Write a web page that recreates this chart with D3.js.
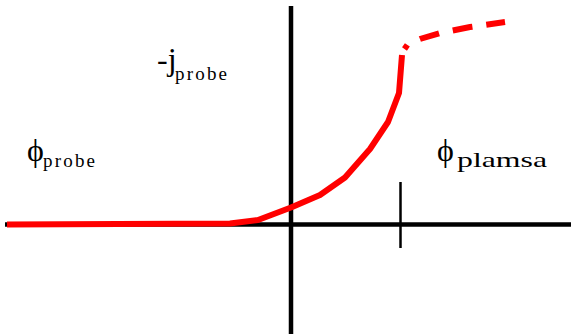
<!DOCTYPE html>
<html>
<head>
<meta charset="utf-8">
<script src="https://cdn.jsdelivr.net/npm/d3@7"></script>
<style>
  html, body { margin: 0; padding: 0; background: #fff; }
  svg { display: block; }
</style>
</head>
<body>
<svg id="chart"></svg>
<script>
// probe potential (arbitrary units) and collected current -j (arbitrary units)
const solidV = [-28.4, -6.1, -3.3, 0, 2.9, 5.4, 7.9, 9.7, 10.8, 11.1];
const solidJ = [0, 0.1, 0.45, 1.7, 2.95, 4.7, 7.55, 10.25, 13.15, 16.95];
// saturation part, drawn dashed
const dashedV = [11.35, 11.7, 12.9, 14.9, 17.9, 21.4];
const dashedJ = [17.55, 18.05, 18.55, 19.15, 19.75, 20.25];
// plasma potential marker on the axis
const plasmaV = [10.95];
const labelMain = ['-j', '\u03d5', '\u03d5'];
const labelSub = ['probe', 'probe', 'plamsa'];

class ProbeCurve {
  constructor(_config) {
    this.config = {
      parentElement: _config.parentElement,
      containerWidth: 571,
      containerHeight: 334,
      font: '"Times New Roman", "Liberation Serif", "DejaVu Serif", serif'
    };
    this.initVis();
  }

  initVis() {
    let vis = this;
    vis.svg = d3.select(vis.config.parentElement)
        .attr('width', vis.config.containerWidth)
        .attr('height', vis.config.containerHeight);

    // origin sits where the two axes cross
    vis.x = d3.scaleLinear().domain([-28.6, 28]).range([5, 571]);
    vis.y = d3.scaleLinear().domain([-11, 21.85]).range([334.5, 6]);

    vis.line = d3.line()
        .x(d => vis.x(d[0]))
        .y(d => vis.y(d[1]));

    vis.renderVis();
  }

  renderVis() {
    let vis = this;
    const x = vis.x, y = vis.y;

    // axes as plain lines through the origin
    vis.svg.append('line')
        .attr('x1', x(-28.6)).attr('x2', x(28))
        .attr('y1', y(0)).attr('y2', y(0))
        .attr('stroke', '#000').attr('stroke-width', 4.5);
    vis.svg.append('line')
        .attr('x1', x(0)).attr('x2', x(0))
        .attr('y1', y(21.85)).attr('y2', y(-11))
        .attr('stroke', '#000').attr('stroke-width', 4.5);

    vis.svg.selectAll('.tick-mark')
      .data(plasmaV)
      .join('line')
        .attr('class', 'tick-mark')
        .attr('x1', d => x(d)).attr('x2', d => x(d))
        .attr('y1', y(4.25)).attr('y2', y(-2.35))
        .attr('stroke', '#000').attr('stroke-width', 2.5);

    vis.svg.append('path')
        .datum(d3.zip(solidV, solidJ))
        .attr('d', vis.line)
        .attr('fill', 'none')
        .attr('stroke', '#ff0000')
        .attr('stroke-width', 6)
        .attr('stroke-linejoin', 'round');

    vis.svg.append('path')
        .datum(d3.zip(dashedV, dashedJ))
        .attr('d', vis.line)
        .attr('fill', 'none')
        .attr('stroke', '#ff0000')
        .attr('stroke-width', 6)
        .attr('stroke-dasharray', '20,14')
        .attr('stroke-dashoffset', 15);

    // text labels: main symbol then subscript
    const pos = [
      {x: 157, y: 70, sx: 175, sy: 80, sw: 52, fs: 19, adj: 'spacing'},
      {x: 27, y: 161, sx: 43, sy: 167, sw: 52, fs: 19, adj: 'spacing'},
      {x: 437, y: 161, sx: 457, sy: 167, sw: 90, fs: 22, adj: 'spacingAndGlyphs'}
    ];
    labelMain.forEach((t, i) => {
      const p = pos[i];
      vis.svg.append('text')
          .attr('x', p.x).attr('y', p.y)
          .style('font-family', vis.config.font)
          .attr('font-size', 32)
          .attr('fill', '#000')
          .text(t);
      vis.svg.append('text')
          .attr('x', p.sx).attr('y', p.sy)
          .style('font-family', vis.config.font)
          .attr('font-size', p.fs)
          .attr('fill', '#000')
          .attr('textLength', p.sw)
          .attr('lengthAdjust', p.adj)
          .text(labelSub[i]);
    });
  }
}

new ProbeCurve({parentElement: '#chart'});
</script>
</body>
</html>
